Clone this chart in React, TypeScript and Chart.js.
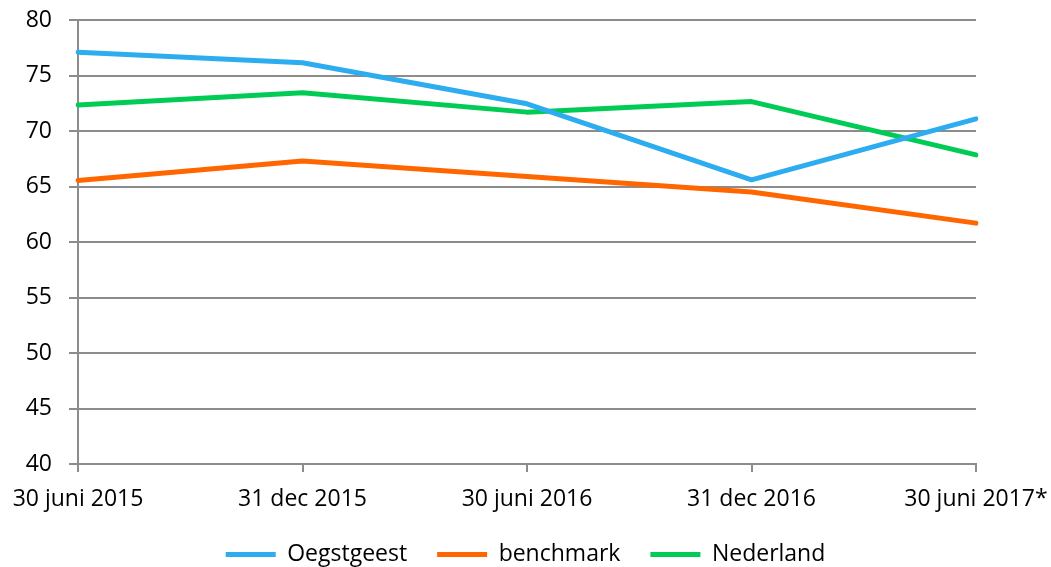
import React, { useEffect, useRef } from "react";
import { Chart, registerables } from "chart.js";

Chart.register(...registerables);

const categories = ["30 juni 2015", "31 dec 2015", "30 juni 2016", "31 dec 2016", "30 juni 2017*"];
const oegstgeest = [77.1, 76.15, 72.45, 65.6, 71.1];
const benchmark = [65.55, 67.3, 65.9, 64.5, 61.7];
const nederland = [72.35, 73.45, 71.7, 72.65, 67.85];
const yTicks = [40, 45, 50, 55, 60, 65, 70, 75, 80];

const FONT = "'Open Sans', sans-serif";
const GRID = "#8c8c8c";

const legendShift = {
  id: "legendShift",
  beforeDraw(chart: any) {
    const lg = chart.legend;
    if (lg) {
      lg.left = 0;
      lg.right = chart.width;
      lg.width = chart.width;
    }
  },
};

export default function App() {
  const ref = useRef<HTMLCanvasElement>(null);
  useEffect(() => {
    document.body.style.margin = "0";
    const ctx = ref.current!;
    const mk = (label: string, data: number[], color: string) => ({
      label,
      data,
      borderColor: color,
      backgroundColor: color,
      borderWidth: 5,
      pointRadius: 0,
      tension: 0,
      borderCapStyle: "round" as const,
      borderJoinStyle: "round" as const,
    });
    const chart = new Chart(ctx, {
      type: "line",
      data: {
        labels: categories,
        datasets: [
          mk("Oegstgeest", oegstgeest, "#2dadf0"),
          mk("benchmark", benchmark, "#ff6600"),
          mk("Nederland", nederland, "#00cc55"),
        ],
      },
      plugins: [legendShift],
      options: {
        animation: false,
        responsive: false,
        layout: { padding: { top: 20, right: 75, left: 0, bottom: -9 } },
        plugins: {
          tooltip: { enabled: false },
          legend: {
            position: "bottom",
            labels: {
              font: { family: FONT, size: 23 },
              color: "#000",
              boxWidth: 50,
              boxHeight: 5,
              padding: 30,
              generateLabels: (c: any) =>
                c.data.datasets.map((d: any, i: number) => ({
                  text: d.label,
                  fillStyle: d.borderColor,
                  strokeStyle: d.borderColor,
                  lineWidth: 0,
                  datasetIndex: i,
                  hidden: false,
                })),
            },
          },
        },
        scales: {
          x: {
            offset: false,
            grid: { display: true, drawOnChartArea: false, drawTicks: true, tickLength: 8, color: GRID, lineWidth: 2 },
            border: { color: GRID, width: 2 },
            ticks: { font: { family: FONT, size: 23 }, color: "#000", padding: 14, maxRotation: 0, autoSkip: false },
            afterFit: (s: any) => { s.height = 49; s.paddingLeft = 0; s.paddingRight = 0; },
          },
          y: {
            min: 40,
            max: 80,
            afterBuildTicks: (s: any) => { s.ticks = yTicks.map((v) => ({ value: v })); },
            grid: { color: GRID, lineWidth: 2, tickLength: 9 },
            border: { color: GRID, width: 2 },
            ticks: { font: { family: FONT, size: 23 }, color: "#000", padding: 17 },
            afterFit: (s: any) => { s.width = 78; s.paddingTop = 0; s.paddingBottom = 0; },
          },
        },
      },
    });
    return () => chart.destroy();
  }, []);
  return <canvas ref={ref} width={1051} height={567} style={{ display: "block" }} />;
}
